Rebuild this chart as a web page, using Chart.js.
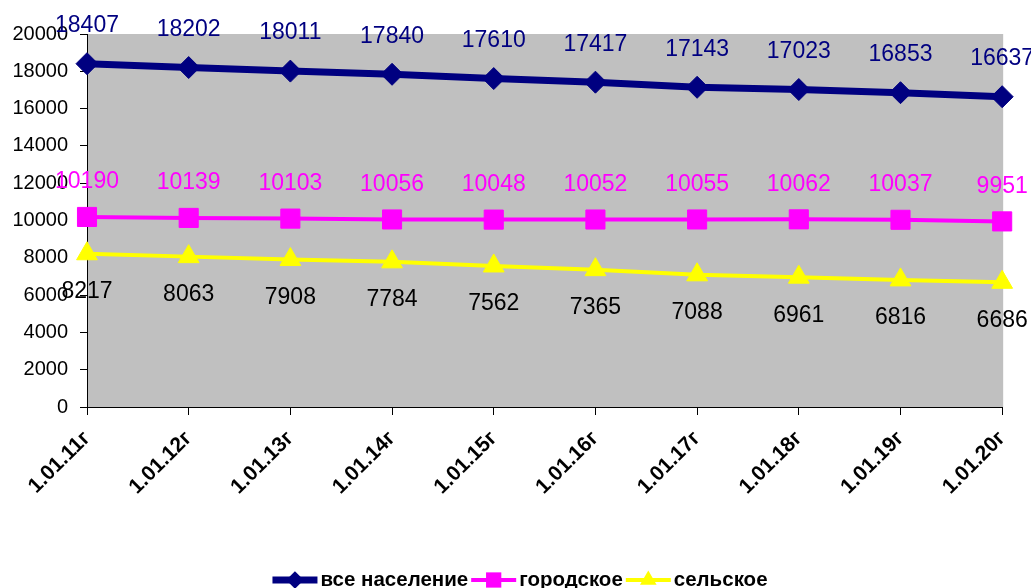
<!DOCTYPE html>
<html>
<head>
<meta charset="utf-8">
<script src="https://cdn.jsdelivr.net/npm/chart.js@4/dist/chart.umd.min.js"></script>
<style>
  html, body { margin: 0; padding: 0; background: #fff; }
  #wrap { width: 1031px; height: 588px; }
</style>
</head>
<body>
<div id="wrap"><canvas id="popChart" width="1031" height="588"></canvas></div>
<script>
// Data
const years = ['1.01.11г', '1.01.12г', '1.01.13г', '1.01.14г', '1.01.15г',
               '1.01.16г', '1.01.17г', '1.01.18г', '1.01.19г', '1.01.20г'];
const allPop   = [18407, 18202, 18011, 17840, 17610, 17417, 17143, 17023, 16853, 16637];
const urbanPop = [10190, 10139, 10103, 10056, 10048, 10052, 10055, 10062, 10037, 9951];
const ruralPop = [8217, 8063, 7908, 7784, 7562, 7365, 7088, 6961, 6816, 6686];
const seriesNames = ['все население', 'городское', 'сельское'];

const FONT = '"Liberation Sans", Arial, sans-serif';

// gray plot background
const plotBg = {
  id: 'plotBg',
  beforeDraw(chart) {
    const a = chart.chartArea, ctx = chart.ctx;
    ctx.save();
    ctx.fillStyle = '#c0c0c0';
    ctx.fillRect(a.left, a.top, a.right - a.left + 1, a.bottom - a.top);
    ctx.restore();
  }
};

// value labels next to each point
const valueLabels = {
  id: 'valueLabels',
  afterDatasetsDraw(chart) {
    const ctx = chart.ctx;
    ctx.save();
    ctx.font = '23px ' + FONT;
    ctx.textAlign = 'center';
    ctx.textBaseline = 'middle';
    chart.data.datasets.forEach((ds, i) => {
      const meta = chart.getDatasetMeta(i);
      meta.data.forEach((pt, j) => {
        ctx.fillStyle = ds.labelColor;
        ctx.fillText(String(ds.data[j]), pt.x, pt.y + ds.labelOffset);
      });
    });
    ctx.restore();
  }
};

function drawMarker(ctx, style, x, y, r, color) {
  ctx.fillStyle = color;
  ctx.beginPath();
  if (style === 'rectRot') {
    ctx.moveTo(x - r, y); ctx.lineTo(x, y - r); ctx.lineTo(x + r, y); ctx.lineTo(x, y + r);
  } else if (style === 'rect') {
    const s = r * Math.SQRT1_2;
    ctx.rect(x - s, y - s, 2 * s, 2 * s);
  } else {
    ctx.moveTo(x, y - r);
    ctx.lineTo(x + r * Math.sin(2 * Math.PI / 3), y + r / 2);
    ctx.lineTo(x - r * Math.sin(2 * Math.PI / 3), y + r / 2);
  }
  ctx.closePath();
  ctx.fill();
}

// legend in Excel style: line with marker, then bold name
const lineLegend = {
  id: 'lineLegend',
  afterDraw(chart) {
    const ctx = chart.ctx;
    const lineLen = 45, gap = 3, y = 580;
    ctx.save();
    ctx.font = 'bold 20.5px ' + FONT;
    ctx.textBaseline = 'middle';
    let total = 0;
    const widths = chart.data.datasets.map(ds => ctx.measureText(ds.label).width);
    widths.forEach(w => { total += lineLen + gap + w + gap; });
    let x = (chart.width - total) / 2 + 6;
    chart.data.datasets.forEach((ds, i) => {
      ctx.strokeStyle = ds.borderColor;
      ctx.lineWidth = ds.borderWidth;
      ctx.beginPath();
      ctx.moveTo(x, y); ctx.lineTo(x + lineLen, y);
      ctx.stroke();
      drawMarker(ctx, ds.pointStyle, x + lineLen / 2, y, ds.pointRadius * 0.8, ds.borderColor);
      x += lineLen + gap;
      ctx.fillStyle = '#000';
      ctx.textAlign = 'left';
      ctx.fillText(ds.label, x, y);
      x += widths[i] + gap;
    });
    ctx.restore();
  }
};

const ctx = document.getElementById('popChart').getContext('2d');
new Chart(ctx, {
  type: 'line',
  data: {
    labels: years,
    datasets: [
      {
        label: seriesNames[0],
        data: allPop,
        borderColor: '#000080',
        backgroundColor: '#000080',
        borderWidth: 7,
        pointStyle: 'rectRot',
        pointRadius: 11,
        pointBorderWidth: 1,
        labelColor: '#000080',
        labelOffset: -38
      },
      {
        label: seriesNames[1],
        data: urbanPop,
        borderColor: '#ff00ff',
        backgroundColor: '#ff00ff',
        borderWidth: 4,
        pointStyle: 'rect',
        pointRadius: 13.5,
        pointBorderWidth: 1,
        labelColor: '#ff00ff',
        labelOffset: -35
      },
      {
        label: seriesNames[2],
        data: ruralPop,
        borderColor: '#ffff00',
        backgroundColor: '#ffff00',
        borderWidth: 4,
        pointStyle: 'triangle',
        pointRadius: 12,
        pointBorderWidth: 1,
        labelColor: '#000000',
        labelOffset: 38
      }
    ]
  },
  options: {
    responsive: false,
    animation: false,
    layout: { padding: { top: 34, right: 26, left: 0, bottom: 0 } },
    plugins: {
      legend: { display: false },
      tooltip: { enabled: false }
    },
    scales: {
      x: {
        offset: false,
        afterFit(scale) { scale.height = 181; },
        grid: {
          display: true,
          drawOnChartArea: false,
          drawTicks: true,
          tickLength: 8,
          color: '#000'
        },
        border: { display: true, color: '#000', width: 1 },
        ticks: {
          color: '#000',
          font: { family: FONT, size: 21, weight: 'bold' },
          minRotation: 45,
          maxRotation: 45,
          padding: 11,
          autoSkip: false
        }
      },
      y: {
        min: 0,
        max: 20000,
        afterFit(scale) { scale.width = 87; },
        grid: {
          display: true,
          drawOnChartArea: false,
          drawTicks: true,
          tickLength: 7,
          color: '#000'
        },
        border: { display: true, color: '#000', width: 1 },
        ticks: {
          stepSize: 2000,
          color: '#000',
          padding: 12,
          font: { family: FONT, size: 20 },
          callback: v => String(v)
        }
      }
    }
  },
  plugins: [plotBg, valueLabels, lineLegend]
});
</script>
</body>
</html>
